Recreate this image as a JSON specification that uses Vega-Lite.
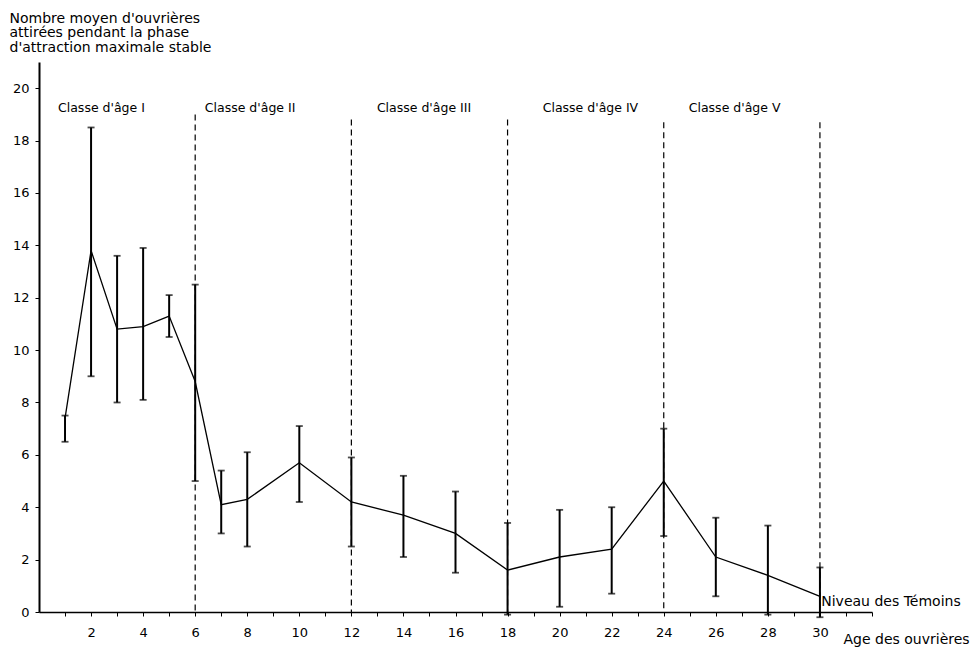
{
  "$schema": "https://vega.github.io/schema/vega-lite/v6.json",
  "autosize": {"type": "none"},
  "width": 833,
  "height": 550,
  "padding": {"left": 39, "top": 62, "right": 103, "bottom": 37},
  "background": "white",
  "config": {
    "font": "DejaVu Sans",
    "view": {"stroke": null},
    "axis": {"grid": false, "domainColor": "black", "tickColor": "black", "labelColor": "black", "titleColor": "black", "labelFont": "DejaVu Sans", "titleFont": "DejaVu Sans"}
  },
  "datasets": {
    "pts": [
      {"age": 1, "mean": 7.4, "lo": 6.5, "hi": 7.5},
      {"age": 2, "mean": 13.8, "lo": 9.0, "hi": 18.5},
      {"age": 3, "mean": 10.8, "lo": 8.0, "hi": 13.6},
      {"age": 4, "mean": 10.9, "lo": 8.1, "hi": 13.9},
      {"age": 5, "mean": 11.3, "lo": 10.5, "hi": 12.1},
      {"age": 6, "mean": 8.8, "lo": 5.0, "hi": 12.5},
      {"age": 7, "mean": 4.1, "lo": 3.0, "hi": 5.4},
      {"age": 8, "mean": 4.3, "lo": 2.5, "hi": 6.1},
      {"age": 10, "mean": 5.7, "lo": 4.2, "hi": 7.1},
      {"age": 12, "mean": 4.2, "lo": 2.5, "hi": 5.9},
      {"age": 14, "mean": 3.7, "lo": 2.1, "hi": 5.2},
      {"age": 16, "mean": 3.0, "lo": 1.5, "hi": 4.6},
      {"age": 18, "mean": 1.6, "lo": -0.1, "hi": 3.4},
      {"age": 20, "mean": 2.1, "lo": 0.2, "hi": 3.9},
      {"age": 22, "mean": 2.4, "lo": 0.7, "hi": 4.0},
      {"age": 24, "mean": 5.0, "lo": 2.9, "hi": 7.0},
      {"age": 26, "mean": 2.1, "lo": 0.6, "hi": 3.6},
      {"age": 28, "mean": 1.4, "lo": -0.1, "hi": 3.3},
      {"age": 30, "mean": 0.6, "lo": -0.2, "hi": 1.7}
    ],
    "bounds": [
      {"age": 6, "top": 19.0, "base": 0},
      {"age": 12, "top": 18.8, "base": 0},
      {"age": 18, "top": 18.8, "base": 0},
      {"age": 24, "top": 18.7, "base": 0},
      {"age": 30, "top": 18.7, "base": 0}
    ],
    "classes": [
      {"age": 0.73, "y": 19.25, "label": "Classe d'âge I"},
      {"age": 6.37, "y": 19.25, "label": "Classe d'âge II"},
      {"age": 12.98, "y": 19.25, "label": "Classe d'âge III"},
      {"age": 19.35, "y": 19.25, "label": "Classe d'âge IV"},
      {"age": 24.96, "y": 19.25, "label": "Classe d'âge V"}
    ],
    "temoins": [
      {"age": 30.05, "y": 0.1, "label": "Niveau des Témoins"}
    ]
  },
  "encoding": {
    "x": {"field": "age", "type": "quantitative", "scale": {"domain": [0, 32], "nice": false},
      "axis": {"values": [1,2,3,4,5,6,7,8,9,10,11,12,13,14,15,16,17,18,19,20,21,22,23,24,25,26,27,28,29,30,31,32],
        "labelExpr": "datum.value % 2 == 0 && datum.value <= 30 ? datum.label : ''",
        "labelFontSize": 13, "labelPadding": 10, "tickSize": 4, "domainWidth": 1.5,
        "title": "Age des ouvrières", "titleFontSize": 14, "titleFontWeight": "normal",
        "titleAnchor": "start", "titleAlign": "left", "titleX": 804, "titleY": 31, "titleBaseline": "alphabetic"}}
  },
  "layer": [
    {
      "data": {"name": "pts"},
      "mark": {"type": "rule", "strokeWidth": 2, "color": "black"},
      "encoding": {
        "y": {"field": "lo", "type": "quantitative", "scale": {"domain": [0, 21], "nice": false},
          "axis": {"values": [0,1,2,3,4,5,6,7,8,9,10,11,12,13,14,15,16,17,18,19,20],
            "labelExpr": "datum.value % 2 == 0 ? datum.label : ''",
            "labelFontSize": 13, "labelPadding": 6, "tickSize": 4, "domainWidth": 2,
            "title": ["Nombre moyen d'ouvrières", "attirées pendant la phase", "d'attraction maximale stable"],
            "titleFontSize": 14, "titleFontWeight": "normal", "titleAngle": 0,
            "titleAlign": "left", "titleAnchor": "start", "titleBaseline": "top",
            "titleX": -30, "titleY": -51, "titleLineHeight": 14.5}},
        "y2": {"field": "hi"}
      }
    },
    {
      "data": {"name": "bounds"},
      "mark": {"type": "rule", "strokeDash": [6, 4], "strokeWidth": 1.2, "color": "black"},
      "encoding": {
        "y": {"field": "top", "type": "quantitative"},
        "y2": {"field": "base"}
      }
    },
    {
      "data": {"name": "pts"},
      "mark": {"type": "tick", "orient": "horizontal", "size": 7, "thickness": 1.8, "color": "black"},
      "encoding": {
        "y": {"field": "lo", "type": "quantitative"}
      }
    },
    {
      "data": {"name": "pts"},
      "mark": {"type": "tick", "orient": "horizontal", "size": 7, "thickness": 1.8, "color": "black"},
      "encoding": {
        "y": {"field": "hi", "type": "quantitative"}
      }
    },
    {
      "data": {"name": "pts"},
      "mark": {"type": "line", "strokeWidth": 1.3, "color": "black"},
      "encoding": {
        "y": {"field": "mean", "type": "quantitative"}
      }
    },
    {
      "data": {"name": "classes"},
      "mark": {"type": "text", "align": "left", "baseline": "middle", "fontSize": 12.5, "color": "black"},
      "encoding": {
        "y": {"field": "y", "type": "quantitative"},
        "text": {"field": "label"}
      }
    },
    {
      "data": {"name": "temoins"},
      "mark": {"type": "text", "align": "left", "baseline": "bottom", "fontSize": 14, "color": "black"},
      "encoding": {
        "y": {"field": "y", "type": "quantitative"},
        "text": {"field": "label"}
      }
    }
  ]
}
